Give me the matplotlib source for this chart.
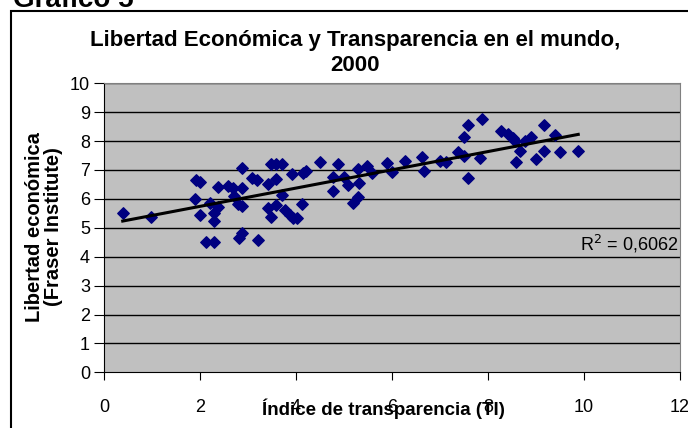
import matplotlib
matplotlib.use("Agg")
import matplotlib.pyplot as plt
from matplotlib.patches import Rectangle
import numpy as np


""" datos leidos del grafico """
transparencia = [0.39, 0.98,
                 1.91, 1.99, 1.90, 2.00, 2.12, 2.30, 2.21, 2.30, 2.30, 2.38, 2.38, 2.59,
                 2.69, 2.71, 2.88, 2.88, 2.80, 2.88, 2.81, 2.88, 3.08, 3.18, 3.20,
                 3.41, 3.48, 3.58, 3.70, 3.58, 3.70, 3.58, 3.41, 3.48, 3.77, 3.87, 3.94,
                 4.03, 3.91, 4.12, 4.15, 4.20,
                 4.50, 4.78, 4.78, 4.88, 4.99, 5.09, 5.30, 5.32, 5.19, 5.30, 5.47, 5.58,
                 5.90, 6.01, 6.28,
                 6.62, 6.67, 7.01, 7.12, 7.38, 7.49, 7.49, 7.59, 7.88, 7.83, 7.59,
                 8.28, 8.42, 8.52, 8.56, 8.67, 8.58, 8.77, 8.90, 9.17, 9.40, 9.17, 9.49,
                 9.00, 9.88]
libertad = [5.52, 5.38,
            6.67, 6.60, 5.99, 5.44, 4.52, 4.52, 5.85, 5.50, 5.25, 5.71, 6.42, 6.46,
            6.37, 6.11, 6.39, 7.08, 5.81, 5.76, 4.66, 4.81, 6.73, 6.67, 4.58,
            6.50, 7.20, 7.20, 7.20, 6.69, 6.13, 5.79, 5.67, 5.38, 5.62, 5.44, 5.33,
            5.35, 6.85, 5.81, 6.89, 6.97,
            7.29, 6.77, 6.27, 7.21, 6.75, 6.48, 7.02, 6.56, 5.85, 6.08, 7.14, 6.89,
            7.23, 6.94, 7.32,
            7.46, 6.98, 7.32, 7.29, 7.63, 7.48, 8.13, 8.56, 8.76, 7.42, 6.71,
            8.36, 8.25, 8.10, 8.00, 7.66, 7.27, 8.01, 8.15, 8.56, 8.21, 7.66, 7.61,
            7.37, 7.66]
# tendencia lineal (pendiente, ordenada)
tendencia = [0.316, 5.11]
r2_texto = "0,6062"
x_ticks = [0, 2, 4, 6, 8, 10, 12]
y_ticks = list(range(0, 11))


fig = plt.figure(figsize=(6.88, 4.28), dpi=100)
ax = fig.add_axes([104 / 688, 1 - 372.3 / 428, 576 / 688, 289 / 428])
ax.set_facecolor("#C0C0C0")

# marco exterior del grafico
fig.patches.append(Rectangle((11 / 688, -0.1), 1.5, 1 - 11 / 428 + 0.1,
                             transform=fig.transFigure, fill=False,
                             edgecolor="black", linewidth=1.5))
fig.text(13 / 688, 1 - 7 / 428, "Gráfico 5", fontsize=20, fontweight="bold",
         family="Liberation Sans", ha="left", va="baseline")

for y in y_ticks[1:]:
    ax.axhline(y, color="black", linewidth=1, zorder=1)

ax.scatter(transparencia, libertad, marker="D", s=34, color="#000080",
           edgecolors="#000080", zorder=3)

# linea de tendencia
x = np.array(transparencia)
xs = np.array([x.min(), x.max()])
ax.plot(xs, tendencia[0] * xs + tendencia[1], color="black", linewidth=2.2, zorder=4)
ax.text(11.97, 4.45, "R$^2$ = " + r2_texto, fontsize=13, family="Liberation Sans",
        ha="right", va="center", zorder=5)

ax.set_xlim(0, 12)
ax.set_ylim(0, 10)
ax.set_xticks(x_ticks)
ax.set_yticks(y_ticks)
ax.tick_params(axis="x", direction="out", length=6, pad=13, labelsize=13)
ax.tick_params(axis="y", direction="out", length=7, pad=3, labelsize=13)
for lab in ax.get_xticklabels() + ax.get_yticklabels():
    lab.set_family("Liberation Sans")
for side in ["top", "right"]:
    ax.spines[side].set_color("#808080")
for side in ["left", "bottom"]:
    ax.spines[side].set_color("black")

fig.text(355 / 688, 1 - 53 / 428, "Libertad Económica y Transparencia en el mundo,\n2000",
         fontsize=16, fontweight="bold", family="Liberation Sans",
         ha="center", va="center", linespacing=1.3)
fig.text(383 / 688, 1 - 409 / 428, "Índice de transparencia (TI)", fontsize=13.5,
         fontweight="bold", family=["Liberation Sans Narrow", "Liberation Sans"],
         ha="center", va="center")
fig.text(44 / 688, 1 - 227 / 428, "Libertad económica\n(Fraser Institute)", fontsize=14.5,
         fontweight="bold", family="Liberation Sans", rotation=90,
         ha="center", va="center", linespacing=1.05)

fig.savefig("out.png", dpi=100)
